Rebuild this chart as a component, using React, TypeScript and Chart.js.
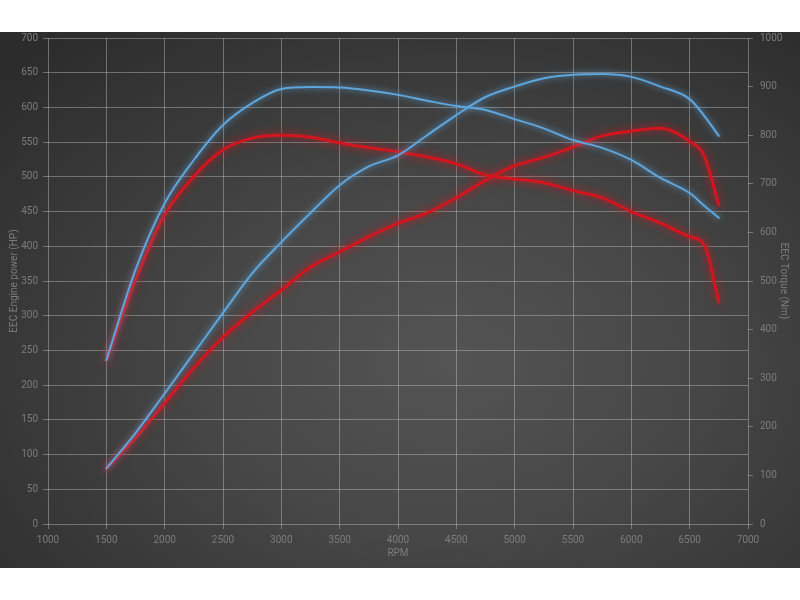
import React, { useEffect, useRef } from "react";
import { Chart, registerables } from "chart.js";

Chart.register(...registerables);

const rpm = [1500, 1750, 2000, 2250, 2500, 2750, 3000, 3250, 3500, 3750, 4000, 4250, 4500, 4750, 5000, 5250, 5500, 5750, 6000, 6250, 6500, 6625, 6750];
const bluePowerHP = [80, 131, 188, 246, 304, 361, 406, 448, 488, 515, 531, 560, 589, 615, 630, 642, 647, 648, 644, 630, 612, 588, 559];
const redPowerHP = [80, 124, 174, 225, 269, 305, 337, 370, 392, 414, 433, 448, 470, 495, 516, 528, 543, 559, 566, 570, 551, 530, 459];
const blueTorqueNm = [337, 523, 660, 749, 821, 866, 895, 899, 898, 892, 883, 871, 860, 852, 833, 814, 790, 774, 749, 712, 681, 655, 630];
const redTorqueNm = [337, 502, 636, 715, 770, 794, 800, 796, 784, 774, 766, 755, 741, 718, 710, 702, 686, 671, 643, 619, 591, 574, 457];

const BLUE = "#5ea6dc";
const RED = "#d2161f";
const TICK_COLOR = "#7c7c7c";
const GRID_COLOR = "rgba(190,190,190,0.45)";

const pts = (vals: number[]) => rpm.map((r, i) => ({ x: r, y: vals[i] }));

export default function App() {
  const ref = useRef<HTMLCanvasElement>(null);

  useEffect(() => {
    if (!ref.current) return;
    const glow = {
      id: "glow",
      beforeDatasetDraw(chart: any, args: any) {
        const ds: any = chart.data.datasets[args.index];
        chart.ctx.save();
        chart.ctx.shadowColor = ds.borderColor;
        chart.ctx.shadowBlur = ds.glowBlur || 6;
      },
      afterDatasetDraw(chart: any) {
        chart.ctx.restore();
      },
    };
    const font = { family: "Roboto, 'DejaVu Sans', sans-serif", size: 10 };
    const plain = (v: any) => String(v);
    const chart = new Chart(ref.current, {
      type: "line",
      data: {
        datasets: [
          { label: "Power blue", data: pts(bluePowerHP), yAxisID: "y", borderColor: BLUE, borderWidth: 2, glowBlur: 6 } as any,
          { label: "Torque blue", data: pts(blueTorqueNm), yAxisID: "y1", borderColor: BLUE, borderWidth: 2, glowBlur: 6 } as any,
          { label: "Power red", data: pts(redPowerHP), yAxisID: "y", borderColor: RED, borderWidth: 3, glowBlur: 8 } as any,
          { label: "Torque red", data: pts(redTorqueNm), yAxisID: "y1", borderColor: RED, borderWidth: 3, glowBlur: 8 } as any,
        ],
      },
      options: {
        animation: false,
        responsive: false,
        maintainAspectRatio: false,
        layout: { padding: { top: 6, left: 0, right: 0, bottom: 0 } },
        elements: {
          point: { radius: 0 },
          line: { cubicInterpolationMode: "monotone", fill: false, borderCapStyle: "round", borderJoinStyle: "round" },
        },
        plugins: { legend: { display: false }, tooltip: { enabled: false } },
        scales: {
          x: {
            type: "linear",
            min: 1000,
            max: 7000,
            ticks: { stepSize: 500, color: TICK_COLOR, font, padding: 5, maxRotation: 0, callback: plain },
            grid: { color: GRID_COLOR, tickLength: 5 },
            border: { display: false },
            title: { display: true, text: "RPM", color: TICK_COLOR, font, padding: { top: 0, bottom: 9 } },
            afterFit: (s: any) => { s.height = 44; s.paddingLeft = 0; s.paddingRight = 0; },
          },
          y: {
            position: "left",
            min: 0,
            max: 700,
            ticks: { stepSize: 50, color: TICK_COLOR, font, padding: 5, callback: plain },
            grid: { color: GRID_COLOR, tickLength: 5 },
            border: { display: false },
            title: { display: true, text: "EEC Engine power (HP)", color: TICK_COLOR, font, padding: { top: 8, bottom: 0 } },
            afterFit: (s: any) => { s.width = 48; s.paddingTop = 0; s.paddingBottom = 0; },
          },
          y1: {
            position: "right",
            min: 0,
            max: 1000,
            ticks: { stepSize: 100, color: TICK_COLOR, font, padding: 7, callback: plain },
            grid: { color: GRID_COLOR, tickLength: 5, drawOnChartArea: false },
            border: { display: false },
            title: { display: true, text: "EEC Torque (Nm)", color: TICK_COLOR, font, padding: { top: 11, bottom: 0 } },
            afterFit: (s: any) => { s.width = 52; s.paddingTop = 0; s.paddingBottom = 0; },
          },
        },
      } as any,
      plugins: [glow],
    });
    return () => chart.destroy();
  }, []);

  return (
    <div
      style={{
        position: "absolute",
        left: 0,
        top: 32,
        width: 800,
        height: 536,
        background:
          "radial-gradient(ellipse 75% 80% at 56% 62%, #545454 0%, #474747 40%, #373737 75%, #2c2c2c 100%)",
      }}
    >
      <canvas ref={ref} width={800} height={536} style={{ display: "block", width: 800, height: 536 }} />
    </div>
  );
}
